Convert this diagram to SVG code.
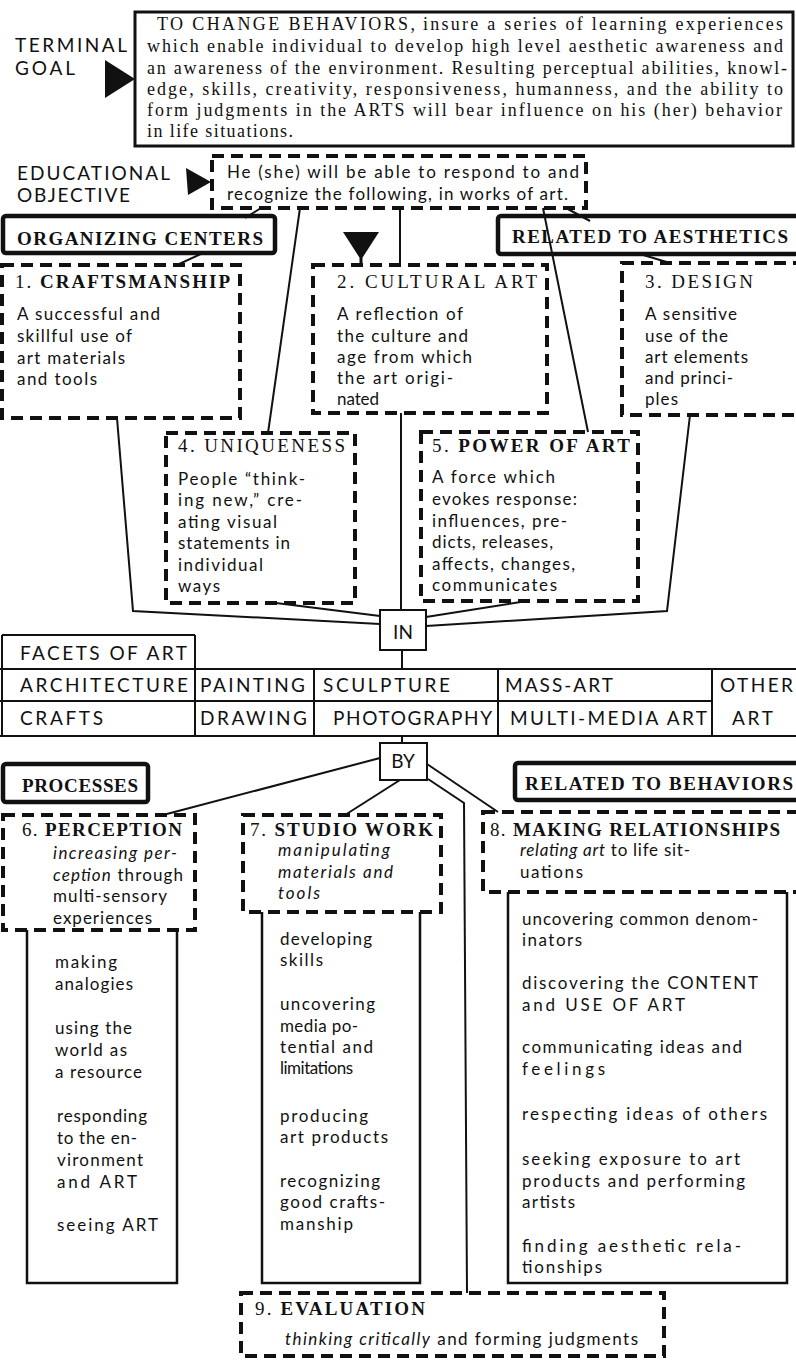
<svg xmlns="http://www.w3.org/2000/svg" width="796" height="1360" viewBox="0 0 796 1360">
<defs><style>
text{fill:#111}
.tg{font-family:"Liberation Serif",serif;font-size:18px}
.s{font-family:Lato,"Liberation Sans",sans-serif;font-size:17px}
.c{font-family:Lato,"Liberation Sans",sans-serif;font-size:19px}
.hd{font-family:"Liberation Serif",serif;font-size:19px;font-weight:bold}
.tt{font-family:"Liberation Serif",serif;font-size:19px}
.b{font-weight:bold}
.i{font-style:italic}
.dash{fill:none;stroke:#111;stroke-width:4;stroke-dasharray:12 7}
.box{fill:#fff;stroke:#111;stroke-width:4.5}
.thin{fill:#fff;stroke:#111;stroke-width:2}
.sub{fill:none;stroke:#111;stroke-width:2.5}
.ln{fill:none;stroke:#111;stroke-width:2}
.tbl{fill:none;stroke:#111;stroke-width:2}
</style></defs>
<rect width="796" height="1360" fill="#fff"/>

<g id="terminal-goal">
<text class="c" x="15" y="52" textLength="112" lengthAdjust="spacing">TERMINAL</text>
<text class="c" x="15" y="75" textLength="60" lengthAdjust="spacing">GOAL</text>
<rect x="135" y="12" width="658" height="134" fill="#fff" stroke="#111" stroke-width="3"/>
<text class="tg" x="157" y="30" textLength="258" lengthAdjust="spacing">TO CHANGE BEHAVIORS,</text>
<text class="tg" x="423" y="30" textLength="360" lengthAdjust="spacing">insure a series of learning experiences</text>
<text class="tg" x="147" y="52" textLength="636" lengthAdjust="spacing">which enable individual to develop high level aesthetic awareness and</text>
<text class="tg" x="147" y="73.5" textLength="640" lengthAdjust="spacing">an awareness of the environment. Resulting perceptual abilities, knowl-</text>
<text class="tg" x="147" y="94.5" textLength="636" lengthAdjust="spacing">edge, skills, creativity, responsiveness, humanness, and the ability to</text>
<text class="tg" x="147" y="116" textLength="635" lengthAdjust="spacing">form judgments in the ARTS will bear influence on his (her) behavior</text>
<text class="tg" x="147" y="137" textLength="146" lengthAdjust="spacing">in life situations.</text>
</g>

<g id="educational-objective">
<text class="c" x="17" y="180" textLength="153" lengthAdjust="spacing">EDUCATIONAL</text>
<text class="c" x="17" y="202" textLength="113" lengthAdjust="spacing">OBJECTIVE</text>
<rect class="dash" x="212" y="156" width="374" height="52"/>
<text class="s" x="227" y="178" textLength="352" lengthAdjust="spacing">He (she) will be able to respond to and</text>
<text class="s" x="227" y="200" textLength="341" lengthAdjust="spacing">recognize the following, in works of art.</text>
</g>

<g id="organizing-centers">
<rect class="box" x="3" y="216" width="272" height="37" rx="3"/>
<text class="hd" x="17" y="245" textLength="246" lengthAdjust="spacing">ORGANIZING CENTERS</text>
</g>

<g id="related-aesthetics">
<rect class="box" x="498" y="216" width="320" height="38" rx="3"/>
<text class="hd" x="512" y="243" textLength="276" lengthAdjust="spacing">RELATED TO AESTHETICS</text>
</g>

<g id="craftsmanship">
<rect class="dash" x="2" y="265" width="238" height="153"/>
<text class="tt" x="15" y="288" textLength="215" lengthAdjust="spacing">1. <tspan class="b">CRAFTSMANSHIP</tspan></text>
<text class="s" x="17" y="320" textLength="143" lengthAdjust="spacing">A successful and</text>
<text class="s" x="17" y="342" textLength="115" lengthAdjust="spacing">skillful use of</text>
<text class="s" x="17" y="363.5" textLength="108" lengthAdjust="spacing">art materials</text>
<text class="s" x="17" y="385" textLength="80" lengthAdjust="spacing">and tools</text>
</g>

<g id="cultural-art">
<rect class="dash" x="313" y="265" width="234" height="148"/>
<text class="tt" x="337" y="288" textLength="200" lengthAdjust="spacing">2. CULTURAL ART</text>
<text class="s" x="337" y="320" textLength="126" lengthAdjust="spacing">A reflection of</text>
<text class="s" x="337" y="342" textLength="131" lengthAdjust="spacing">the culture and</text>
<text class="s" x="337" y="363" textLength="135" lengthAdjust="spacing">age from which</text>
<text class="s" x="337" y="384" textLength="116" lengthAdjust="spacing">the art origi-</text>
<text class="s" x="337" y="405" textLength="42" lengthAdjust="spacing">nated</text>
</g>

<g id="design">
<rect class="dash" x="622" y="263" width="200" height="152"/>
<text class="tt" x="645" y="288" textLength="108" lengthAdjust="spacing">3. DESIGN</text>
<text class="s" x="645" y="320" textLength="92" lengthAdjust="spacing">A sensitive</text>
<text class="s" x="645" y="342" textLength="83" lengthAdjust="spacing">use of the</text>
<text class="s" x="645" y="363" textLength="103" lengthAdjust="spacing">art elements</text>
<text class="s" x="645" y="384" textLength="88" lengthAdjust="spacing">and princi-</text>
<text class="s" x="645" y="405" textLength="33" lengthAdjust="spacing">ples</text>
</g>

<g id="uniqueness">
<rect class="dash" x="166" y="433" width="189" height="170"/>
<text class="tt" x="178" y="452" textLength="167" lengthAdjust="spacing">4. UNIQUENESS</text>
<text class="s" x="178" y="485" textLength="127" lengthAdjust="spacing">People “think-</text>
<text class="s" x="178" y="506" textLength="124" lengthAdjust="spacing">ing new,” cre-</text>
<text class="s" x="178" y="528" textLength="99" lengthAdjust="spacing">ating visual</text>
<text class="s" x="178" y="549" textLength="112" lengthAdjust="spacing">statements in</text>
<text class="s" x="178" y="571" textLength="85" lengthAdjust="spacing">individual</text>
<text class="s" x="178" y="592" textLength="42" lengthAdjust="spacing">ways</text>
</g>

<g id="power-of-art">
<rect class="dash" x="421" y="432" width="217" height="169"/>
<text class="tt" x="432" y="452" textLength="198" lengthAdjust="spacing">5. <tspan class="b">POWER OF ART</tspan></text>
<text class="s" x="432" y="483" textLength="123" lengthAdjust="spacing">A force which</text>
<text class="s" x="432" y="505" textLength="145" lengthAdjust="spacing">evokes response:</text>
<text class="s" x="432" y="526.5" textLength="135" lengthAdjust="spacing">influences, pre-</text>
<text class="s" x="432" y="548" textLength="121" lengthAdjust="spacing">dicts, releases,</text>
<text class="s" x="432" y="569.5" textLength="143" lengthAdjust="spacing">affects, changes,</text>
<text class="s" x="432" y="591" textLength="125" lengthAdjust="spacing">communicates</text>
</g>

<g id="in-node">
<rect class="thin" x="380" y="610" width="46" height="40"/>
<text class="c" x="403" y="639" text-anchor="middle">IN</text>
</g>

<g id="facets-of-art">
<path class="tbl" d="M2,635 H195 M0,669 H796 M0,701 H712 M0,736 H796 M2,635 V736 M195,635 V736 M314,669 V736 M498,669 V736 M712,669 V736"/>
<text class="c" x="20" y="660" textLength="167" lengthAdjust="spacing">FACETS OF ART</text>
<text class="c" x="20" y="692" textLength="168" lengthAdjust="spacing">ARCHITECTURE</text>
<text class="c" x="200" y="692" textLength="105" lengthAdjust="spacing">PAINTING</text>
<text class="c" x="323" y="692" textLength="127" lengthAdjust="spacing">SCULPTURE</text>
<text class="c" x="505" y="692" textLength="108" lengthAdjust="spacing">MASS-ART</text>
<text class="c" x="720" y="692" textLength="73" lengthAdjust="spacing">OTHER</text>
<text class="c" x="20" y="725" textLength="83" lengthAdjust="spacing">CRAFTS</text>
<text class="c" x="200" y="725" textLength="107" lengthAdjust="spacing">DRAWING</text>
<text class="c" x="333" y="725" textLength="159" lengthAdjust="spacing">PHOTOGRAPHY</text>
<text class="c" x="510" y="725" textLength="197" lengthAdjust="spacing">MULTI-MEDIA ART</text>
<text class="c" x="732" y="725" textLength="41" lengthAdjust="spacing">ART</text>
</g>

<g id="by-node">
<rect class="thin" x="380" y="743" width="47" height="37"/>
<text class="c" x="403" y="768" text-anchor="middle">BY</text>
</g>

<g id="processes">
<rect class="box" x="3" y="764" width="145" height="38" rx="3"/>
<text class="hd" x="22" y="792" textLength="116" lengthAdjust="spacing">PROCESSES</text>
</g>

<g id="related-behaviors">
<rect class="box" x="515" y="763" width="300" height="37" rx="3"/>
<text class="hd" x="525" y="790" textLength="268" lengthAdjust="spacing">RELATED TO BEHAVIORS</text>
</g>

<g id="perception">
<rect class="dash" x="3" y="815" width="192" height="115"/>
<text class="tt" x="22" y="836" textLength="160" lengthAdjust="spacing">6. <tspan class="b">PERCEPTION</tspan></text>
<text class="s i" x="53" y="859" textLength="124" lengthAdjust="spacing">increasing per-</text>
<text class="s" x="53" y="881" textLength="130" lengthAdjust="spacing"><tspan class="i">ception</tspan> through</text>
<text class="s" x="53" y="902" textLength="114" lengthAdjust="spacing">multi-sensory</text>
<text class="s" x="53" y="924" textLength="99" lengthAdjust="spacing">experiences</text>
<path class="sub" d="M27,930 V1283 H177 V930"/>
<text class="s" x="55" y="968" textLength="62" lengthAdjust="spacing">making</text>
<text class="s" x="55" y="990" textLength="78" lengthAdjust="spacing">analogies</text>
<text class="s" x="55" y="1034" textLength="77" lengthAdjust="spacing">using the</text>
<text class="s" x="55" y="1056" textLength="72" lengthAdjust="spacing">world as</text>
<text class="s" x="55" y="1078" textLength="87" lengthAdjust="spacing">a resource</text>
<text class="s" x="57" y="1122" textLength="90" lengthAdjust="spacing">responding</text>
<text class="s" x="57" y="1144" textLength="80" lengthAdjust="spacing">to the en-</text>
<text class="s" x="57" y="1166" textLength="86" lengthAdjust="spacing">vironment</text>
<text class="s" x="57" y="1188" textLength="80" lengthAdjust="spacing">and ART</text>
<text class="s" x="57" y="1231" textLength="101" lengthAdjust="spacing">seeing ART</text>
</g>

<g id="studio-work">
<rect class="dash" x="243" y="815" width="198" height="97"/>
<text class="tt" x="250" y="836" textLength="183" lengthAdjust="spacing">7. <tspan class="b">STUDIO WORK</tspan></text>
<text class="s i" x="278" y="856" textLength="112" lengthAdjust="spacing">manipulating</text>
<text class="s i" x="278" y="878" textLength="115" lengthAdjust="spacing">materials and</text>
<text class="s i" x="278" y="899" textLength="42" lengthAdjust="spacing">tools</text>
<path class="sub" d="M262,912 V1283 H420 V912"/>
<text class="s" x="280" y="945" textLength="92" lengthAdjust="spacing">developing</text>
<text class="s" x="280" y="966" textLength="43" lengthAdjust="spacing">skills</text>
<text class="s" x="280" y="1010" textLength="95" lengthAdjust="spacing">uncovering</text>
<text class="s" x="280" y="1032" textLength="78" lengthAdjust="spacing">media po-</text>
<text class="s" x="280" y="1053" textLength="93" lengthAdjust="spacing">tential and</text>
<text class="s" x="280" y="1074" textLength="73" lengthAdjust="spacing">limitations</text>
<text class="s" x="280" y="1122" textLength="88" lengthAdjust="spacing">producing</text>
<text class="s" x="280" y="1143" textLength="108" lengthAdjust="spacing">art products</text>
<text class="s" x="280" y="1187" textLength="100" lengthAdjust="spacing">recognizing</text>
<text class="s" x="280" y="1208" textLength="105" lengthAdjust="spacing">good crafts-</text>
<text class="s" x="280" y="1230" textLength="73" lengthAdjust="spacing">manship</text>
</g>

<g id="making-relationships">
<rect class="dash" x="483" y="812" width="330" height="80"/>
<text class="tt" x="490" y="836" textLength="290" lengthAdjust="spacing">8. <tspan class="b">MAKING RELATIONSHIPS</tspan></text>
<text class="s" x="520" y="856" textLength="170" lengthAdjust="spacing"><tspan class="i">relating art</tspan> to life sit-</text>
<text class="s" x="520" y="878" textLength="63" lengthAdjust="spacing">uations</text>
<path class="sub" d="M508,892 V1283 H787 V892"/>
<text class="s" x="522" y="925" textLength="236" lengthAdjust="spacing">uncovering common denom-</text>
<text class="s" x="522" y="946" textLength="60" lengthAdjust="spacing">inators</text>
<text class="s" x="522" y="989" textLength="236" lengthAdjust="spacing">discovering the CONTENT</text>
<text class="s" x="522" y="1011" textLength="163" lengthAdjust="spacing">and USE OF ART</text>
<text class="s" x="522" y="1053" textLength="220" lengthAdjust="spacing">communicating ideas and</text>
<text class="s" x="522" y="1075" textLength="83" lengthAdjust="spacing">feelings</text>
<text class="s" x="522" y="1120" textLength="245" lengthAdjust="spacing">respecting ideas of others</text>
<text class="s" x="522" y="1165" textLength="218" lengthAdjust="spacing">seeking exposure to art</text>
<text class="s" x="522" y="1187" textLength="223" lengthAdjust="spacing">products and performing</text>
<text class="s" x="522" y="1208" textLength="53" lengthAdjust="spacing">artists</text>
<text class="s" x="522" y="1252" textLength="219" lengthAdjust="spacing">finding aesthetic rela-</text>
<text class="s" x="522" y="1273" textLength="80" lengthAdjust="spacing">tionships</text>
</g>

<g id="evaluation">
<rect class="dash" x="241" y="1293" width="423" height="63"/>
<text class="tt" x="255" y="1315" textLength="170" lengthAdjust="spacing">9. <tspan class="b">EVALUATION</tspan></text>
<text class="s" x="285" y="1345" textLength="353" lengthAdjust="spacing"><tspan class="i">thinking critically</tspan> and forming judgments</text>
</g>

<g id="connectors">
<polygon points="105,60 105,98 135,79" fill="#111"/>
<polygon points="186,168 188,195 211,182" fill="#111"/>
<polygon points="343,232 379,232 361,260" fill="#111"/>
<path d="M361,258 V265" stroke="#111" stroke-width="3"/>
<path class="ln" d="M261,208 L245,218 M203,253 L177,265"/>
<path class="ln" d="M300,208 L268,433"/>
<path class="ln" d="M400,208 L400,265"/>
<path class="ln" d="M543,208 L588,432"/>
<path class="ln" d="M566,208 L590,221 M640,254 L670,263"/>
<path class="ln" d="M117,418 L133,611 L380,624"/>
<path class="ln" d="M276,603 L380,616"/>
<path class="ln" d="M401,413 L401,610"/>
<path class="ln" d="M527,601 L426,617"/>
<path class="ln" d="M690,415 L667,611 L426,626"/>
<path class="ln" d="M402,650 V669"/>
<path class="ln" d="M402,736 V743"/>
<path class="ln" d="M380,758 L163,815"/>
<path class="ln" d="M400,780 L345,815"/>
<path class="ln" d="M427,764 L498,812"/>
<path class="ln" d="M428,779 L464,803 L467,1293"/>
</g>
</svg>
